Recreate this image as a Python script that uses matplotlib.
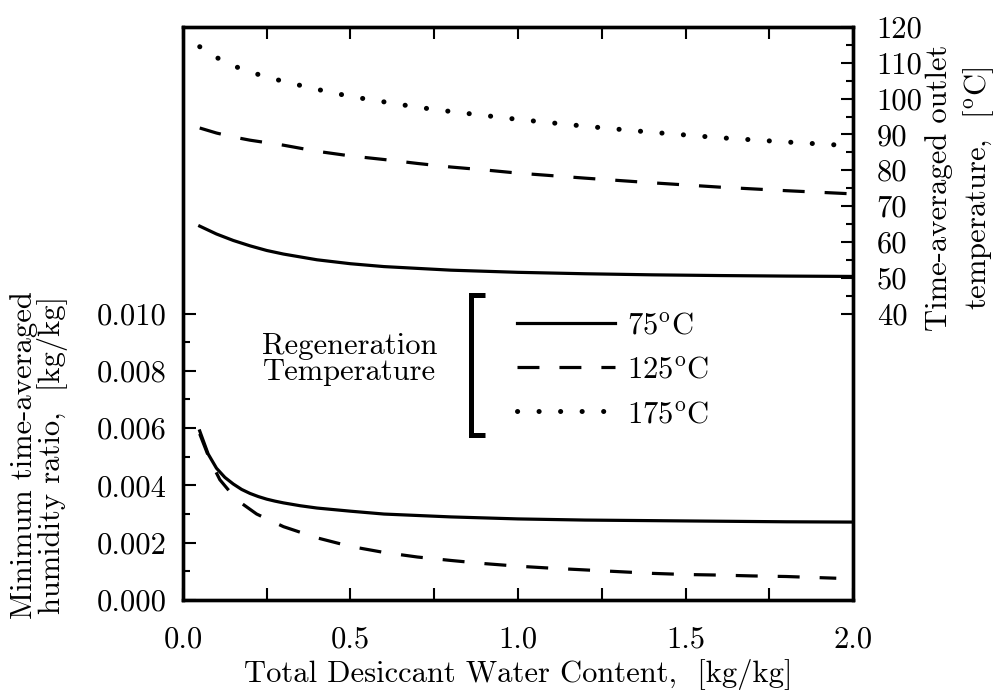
import numpy as np
import matplotlib
matplotlib.use('Agg')
import matplotlib.pyplot as plt
from matplotlib.ticker import MultipleLocator, FormatStrFormatter, FixedLocator

plt.rcParams['font.family'] = 'cmr10'
plt.rcParams['mathtext.fontset'] = 'cm'
plt.rcParams['axes.unicode_minus'] = False
plt.rcParams['lines.scale_dashes'] = False

# outlet temperature curves (right axis, degC)
x_temp = [0.05, 0.1, 0.15, 0.2, 0.25, 0.3, 0.4, 0.5, 0.6, 0.7, 0.8, 0.9, 1.0, 1.2, 1.4, 1.6, 1.8, 2.0]
t_out_75 = [64.4, 62.2, 60.4, 58.9, 57.6, 56.6, 55.0, 53.9, 53.1, 52.6, 52.1, 51.8, 51.5, 51.1, 50.8, 50.6, 50.45, 50.35]
t_out_125 = [91.8, 90.4, 89.3, 88.4, 87.7, 87.0, 85.3, 84.0, 83.0, 81.9, 80.9, 80.1, 79.2, 77.8, 76.5, 75.3, 74.3, 73.4]
t_out_175 = [114.5, 111.5, 109.2, 107.4, 106.1, 104.8, 102.6, 100.6, 99.1, 97.6, 96.4, 95.3, 94.2, 92.3, 90.6, 89.1, 87.9, 86.8]

# minimum humidity ratio curves (left axis, kg/kg)
x_hum_75 = [0.05, 0.075, 0.1, 0.125, 0.15, 0.175, 0.2, 0.225, 0.25, 0.275, 0.3, 0.35, 0.4, 0.5, 0.6, 0.8,
            1.0, 1.2, 1.4, 1.6, 1.8, 2.0]
w_min_75 = [0.0059, 0.0051, 0.0046, 0.00428, 0.00405, 0.00386, 0.00372, 0.00361, 0.00352, 0.00345, 0.00339,
            0.00329, 0.00321, 0.00310, 0.00300, 0.00290, 0.00283, 0.00279, 0.00277, 0.00275, 0.00273, 0.00272]
x_hum_125 = [0.05, 0.08, 0.11, 0.16, 0.22, 0.3, 0.4, 0.5, 0.6, 0.7, 0.8, 0.9, 1.0, 1.1, 1.2, 1.3, 1.4,
             1.5, 1.6, 1.7, 1.8, 1.95]
w_min_125 = [0.0058, 0.0049, 0.0042, 0.0035, 0.0030, 0.00256, 0.00217, 0.00187, 0.00166, 0.00150, 0.00138,
             0.00127, 0.00118, 0.00111, 0.00105, 0.00099, 0.00093, 0.00089, 0.00087, 0.00084, 0.00082, 0.00076]

labels = ['$75^{\\mathrm{o}}\\mathrm{C}$', '$125^{\\mathrm{o}}\\mathrm{C}$', '$175^{\\mathrm{o}}\\mathrm{C}$']
fs = 22
lw = 2.3
dash = (15.8, 14.4)
dot = (0.1, 15.4)

fig = plt.figure(figsize=(10.07, 6.98), dpi=100)
ax = fig.add_axes([0.1817, 0.1404, 0.6654, 0.8209])
ax2 = ax.twinx()

ax.plot(x_hum_75, w_min_75, color='k', lw=lw)
ax.plot(x_hum_125, w_min_125, color='k', lw=lw, dashes=dash)

ax2.plot(x_temp, t_out_75, color='k', lw=lw, label=labels[0])
ax2.plot(x_temp, t_out_125, color='k', lw=lw, dashes=dash, label=labels[1])
ax2.plot(x_temp, t_out_175, color='k', lw=3.6, dashes=dot, dash_capstyle='round', label=labels[2])

ax.set_xlim(0, 2.0)
ax.set_ylim(0, 0.020)
ax2.set_ylim(-40, 120)

ax.xaxis.set_major_locator(MultipleLocator(0.5))
ax.xaxis.set_minor_locator(MultipleLocator(0.25))
ax.xaxis.set_major_formatter(FormatStrFormatter('%.1f'))
ax.yaxis.set_major_locator(FixedLocator(np.arange(0, 0.0101, 0.002)))
ax.yaxis.set_minor_locator(FixedLocator(np.arange(0.001, 0.0100, 0.002)))
ax.yaxis.set_major_formatter(FormatStrFormatter('%.3f'))
ax2.yaxis.set_major_locator(FixedLocator(np.arange(40, 121, 10)))
ax2.yaxis.set_minor_locator(FixedLocator(np.arange(45, 120, 10)))
ax2.yaxis.set_major_formatter(FormatStrFormatter('%d'))

ax.tick_params(axis='x', which='both', direction='in', top=True, length=8.6, width=1.5,
               labelsize=fs, pad=19)
ax.tick_params(axis='y', which='major', direction='in', right=False, length=9, width=1.5,
               labelsize=fs, pad=12)
ax.tick_params(axis='y', which='minor', direction='in', right=False, length=5, width=1.5)
ax2.tick_params(axis='y', which='major', direction='in', length=9, width=1.5, labelsize=fs, pad=17)
ax2.tick_params(axis='y', which='minor', direction='in', length=5, width=1.5)

for a in (ax, ax2):
    for s in a.spines.values():
        s.set_linewidth(2.4)

ax.set_xlabel('Total Desiccant Water Content,  [kg/kg]', fontsize=fs, labelpad=4)
ax.set_ylabel('Minimum time-averaged\nhumidity ratio,  [kg/kg]', fontsize=fs, linespacing=0.95)
ax.yaxis.set_label_coords(-0.172, 0.253)
ax2.set_ylabel('Time-averaged outlet\ntemperature,  $[^{\\mathrm{o}}\\mathrm{C}]$', fontsize=fs, linespacing=1.3)
ax2.yaxis.set_label_coords(1.108, 0.719)

# legend with bracket and heading
leg = ax2.legend(loc='center left', bbox_to_anchor=(0.4985, 0.401), frameon=False, fontsize=fs,
                 handlelength=3.2, handletextpad=0.4, labelspacing=0.55, borderpad=0, borderaxespad=0)
ax.text(0.249, 0.42, 'Regeneration\nTemperature', transform=ax.transAxes, fontsize=fs,
        ha='center', va='center', linespacing=0.95)
ax.plot([0.451, 0.43, 0.43, 0.451], [0.532, 0.532, 0.288, 0.288], transform=ax.transAxes,
        color='k', lw=3.6, solid_joinstyle='miter', solid_capstyle='butt')

fig.savefig('out.png', dpi=100)
